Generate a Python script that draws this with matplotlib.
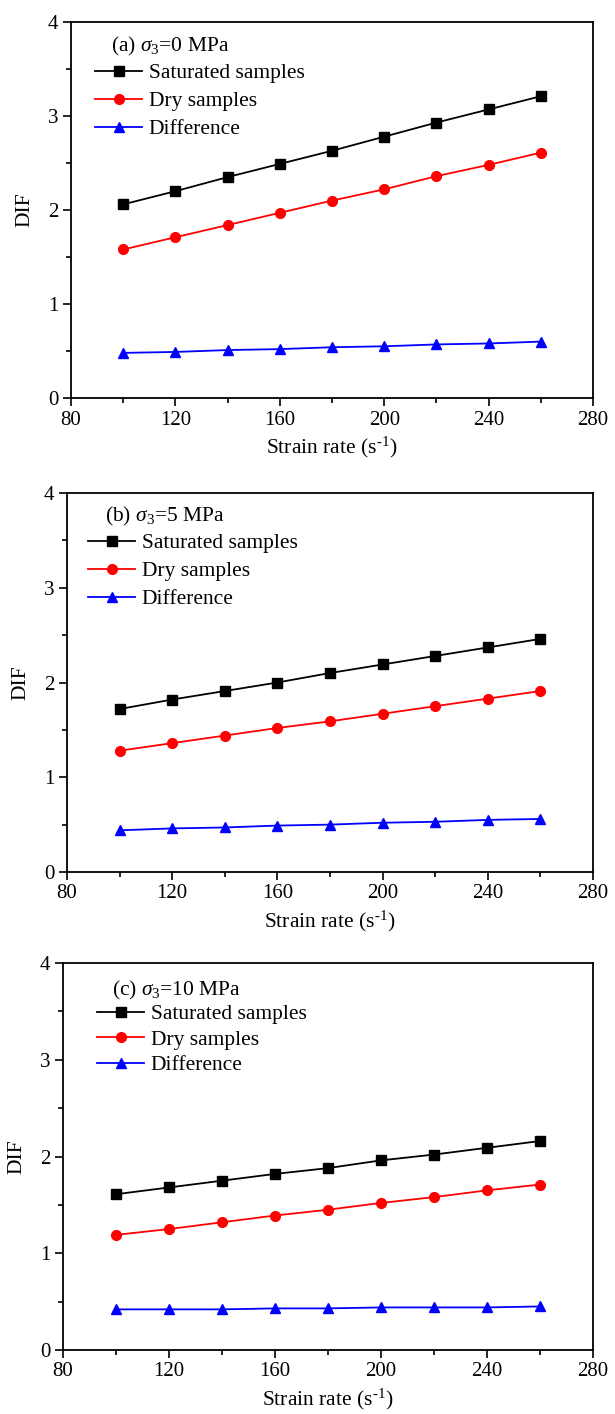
import matplotlib
matplotlib.use("Agg")
import matplotlib.pyplot as plt
from matplotlib.ticker import MultipleLocator

plt.rcParams['font.family'] = ['Liberation Serif', 'DejaVu Serif']
plt.rcParams['mathtext.fontset'] = 'custom'
plt.rcParams['mathtext.rm'] = 'Liberation Serif'
plt.rcParams['mathtext.it'] = 'Liberation Serif:italic'

strain_rate = [100, 120, 140, 160, 180, 200, 220, 240, 260]

sat_a = [2.06, 2.20, 2.35, 2.49, 2.63, 2.78, 2.93, 3.07, 3.21]
dry_a = [1.58, 1.71, 1.84, 1.97, 2.10, 2.22, 2.36, 2.48, 2.61]
diff_a = [0.48, 0.49, 0.51, 0.52, 0.54, 0.55, 0.57, 0.58, 0.60]

sat_b = [1.72, 1.82, 1.91, 2.00, 2.10, 2.19, 2.28, 2.37, 2.46]
dry_b = [1.28, 1.36, 1.44, 1.52, 1.59, 1.67, 1.75, 1.83, 1.91]
diff_b = [0.44, 0.46, 0.47, 0.49, 0.50, 0.52, 0.53, 0.55, 0.56]

sat_c = [1.61, 1.68, 1.75, 1.82, 1.88, 1.96, 2.02, 2.09, 2.16]
dry_c = [1.19, 1.25, 1.32, 1.39, 1.45, 1.52, 1.58, 1.65, 1.71]
diff_c = [0.42, 0.42, 0.42, 0.43, 0.43, 0.44, 0.44, 0.44, 0.45]

panel_titles = [r'(a) $\sigma_3$=0 MPa', r'(b) $\sigma_3$=5 MPa', r'(c) $\sigma_3$=10 MPa']
series_labels = ['Saturated samples', 'Dry samples', 'Difference']
x_label = r'Strain rate (s$^{\text{-1}}$)'
y_label = 'DIF'

panels = [(sat_a, dry_a, diff_a), (sat_b, dry_b, diff_b), (sat_c, dry_c, diff_c)]

W, H = 615, 1414
fig = plt.figure(figsize=(W / 100, H / 100), dpi=100)

# axes boxes in pixels: left, right, top, bottom
boxes = [(71, 593, 22, 398), (67, 593, 493, 872), (63, 593, 963, 1350)]
# annotation (x px, y px center) and legend anchor (x px, top y px)
ann_pos = [(111, 46), (105, 516), (112, 990)]
leg_pos = [(95, 63), (88, 533), (97, 1004)]
leg_spacing = [0.37, 0.37, 0.26]

styles = [dict(color='black', marker='s', ms=7), dict(color='red', marker='o', ms=7),
          dict(color='blue', marker='^', ms=7.5)]

for i, (box, data) in enumerate(zip(boxes, panels)):
    l, r, t, b = box
    ax = fig.add_axes([l / W, 1 - b / H, (r - l) / W, (b - t) / H])
    for ys, st, lab in zip(data, styles, series_labels):
        ax.plot(strain_rate, ys, color=st['color'], marker=st['marker'], markersize=st['ms'],
                linewidth=1.3, label=lab)
    ax.set_xlim(80, 280)
    ax.set_ylim(0, 4)
    ax.xaxis.set_major_locator(MultipleLocator(40))
    ax.xaxis.set_minor_locator(MultipleLocator(20))
    ax.yaxis.set_major_locator(MultipleLocator(1))
    ax.yaxis.set_minor_locator(MultipleLocator(0.5))
    ax.tick_params(which='major', direction='out', length=6, width=1.2, labelsize=15, pad=3)
    ax.tick_params(which='minor', direction='out', length=3.5, width=1.2)
    for sp in ax.spines.values():
        sp.set_linewidth(1.3)
    ax.set_xlabel(x_label, fontsize=15.5, labelpad=4)
    ax.set_ylabel(y_label, fontsize=15.5, labelpad=10)
    ax_h = b - t
    ax_w = r - l
    ax_x, ax_y = ann_pos[i]
    ax.text((ax_x - l) / ax_w, (b - ax_y) / ax_h, panel_titles[i], transform=ax.transAxes,
            fontsize=15.5, ha='left', va='center')
    lx, ly = leg_pos[i]
    ax.legend(loc='upper left', bbox_to_anchor=((lx - l) / ax_w, (b - ly) / ax_h),
              frameon=False, fontsize=15.5, borderpad=0, borderaxespad=0,
              handlelength=2.2, handletextpad=0.3, labelspacing=leg_spacing[i])

fig.savefig('out.png', dpi=100)
